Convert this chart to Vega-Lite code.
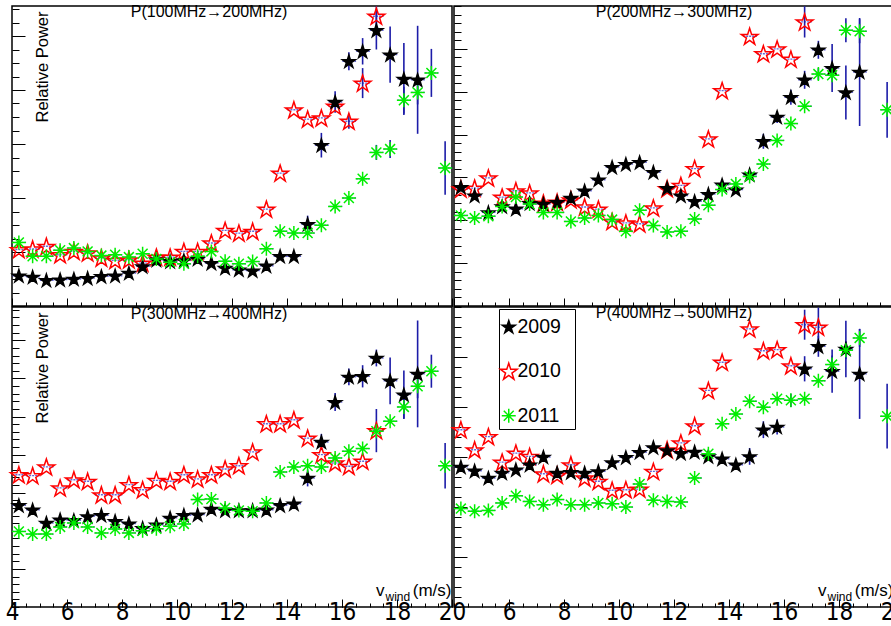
{
"$schema":"https://vega.github.io/schema/vega-lite/v6.json",
"padding":{"left":4,"top":2,"right":0,"bottom":0},
"background":"white",
"bounds":"flush",
"data":{"values":[
{"p":1,"yr":"2010","x":4.25,"v":18.8},{"p":1,"yr":"2010","x":4.75,"v":19.0},{"p":1,"yr":"2010","x":5.25,"v":19.9},{"p":1,"yr":"2010","x":5.75,"v":17.1},{"p":1,"yr":"2010","x":6.25,"v":18.2},{"p":1,"yr":"2010","x":6.75,"v":17.7},{"p":1,"yr":"2010","x":7.25,"v":16.0},{"p":1,"yr":"2010","x":7.75,"v":15.2},{"p":1,"yr":"2010","x":8.25,"v":15.4},{"p":1,"yr":"2010","x":8.75,"v":14.3},{"p":1,"yr":"2010","x":9.25,"v":16.3},{"p":1,"yr":"2010","x":9.75,"v":16.3},{"p":1,"yr":"2010","x":10.25,"v":18.2},{"p":1,"yr":"2010","x":10.75,"v":18.2},{"p":1,"yr":"2010","x":11.25,"v":21.0},{"p":1,"yr":"2010","x":11.75,"v":25.2},{"p":1,"yr":"2010","x":12.25,"v":24.3},{"p":1,"yr":"2010","x":12.75,"v":24.9},{"p":1,"yr":"2010","x":13.25,"v":32.3},{"p":1,"yr":"2010","x":13.75,"v":44.3},{"p":1,"yr":"2010","x":14.25,"v":65.4},{"p":1,"yr":"2010","x":14.75,"v":62.3},{"p":1,"yr":"2010","x":15.25,"v":62.7},{"p":1,"yr":"2010","x":15.75,"v":66.6},{"p":1,"yr":"2010","x":16.25,"v":61.6,"e":2.5},{"p":1,"yr":"2010","x":16.75,"v":74.3,"e":5},{"p":1,"yr":"2010","x":17.25,"v":96.6,"e":3.3},
{"p":1,"yr":"2009","x":4.25,"v":10.1},{"p":1,"yr":"2009","x":4.75,"v":9.7},{"p":1,"yr":"2009","x":5.25,"v":8.6},{"p":1,"yr":"2009","x":5.75,"v":8.8},{"p":1,"yr":"2009","x":6.25,"v":9.0},{"p":1,"yr":"2009","x":6.75,"v":9.3},{"p":1,"yr":"2009","x":7.25,"v":9.9},{"p":1,"yr":"2009","x":7.75,"v":10.1},{"p":1,"yr":"2009","x":8.25,"v":11.0},{"p":1,"yr":"2009","x":8.75,"v":13.2},{"p":1,"yr":"2009","x":9.25,"v":15.4},{"p":1,"yr":"2009","x":9.75,"v":14.9},{"p":1,"yr":"2009","x":10.25,"v":15.2},{"p":1,"yr":"2009","x":10.75,"v":15.7},{"p":1,"yr":"2009","x":11.25,"v":14.3},{"p":1,"yr":"2009","x":11.75,"v":12.7},{"p":1,"yr":"2009","x":12.25,"v":12.1},{"p":1,"yr":"2009","x":12.75,"v":11.8},{"p":1,"yr":"2009","x":13.25,"v":13.4},{"p":1,"yr":"2009","x":13.75,"v":16.6},{"p":1,"yr":"2009","x":14.25,"v":16.6},{"p":1,"yr":"2009","x":14.75,"v":27.3,"e":2.8},{"p":1,"yr":"2009","x":15.25,"v":53.6,"e":4.1},{"p":1,"yr":"2009","x":15.75,"v":68.0,"e":3.6},{"p":1,"yr":"2009","x":16.25,"v":81.6,"e":3},{"p":1,"yr":"2009","x":16.75,"v":84.9,"e":4.4},{"p":1,"yr":"2009","x":17.25,"v":91.9,"e":6.4},{"p":1,"yr":"2009","x":17.75,"v":83.8,"e":9.4},{"p":1,"yr":"2009","x":18.25,"v":75.7,"e":12},{"p":1,"yr":"2009","x":18.75,"v":75.4,"e":18},
{"p":1,"yr":"2011","x":4.25,"v":21.2},{"p":1,"yr":"2011","x":4.75,"v":16.6},{"p":1,"yr":"2011","x":5.25,"v":16.6},{"p":1,"yr":"2011","x":5.75,"v":18.6},{"p":1,"yr":"2011","x":6.25,"v":19.3},{"p":1,"yr":"2011","x":6.75,"v":18.2},{"p":1,"yr":"2011","x":7.25,"v":16.8},{"p":1,"yr":"2011","x":7.75,"v":17.1},{"p":1,"yr":"2011","x":8.25,"v":16.3},{"p":1,"yr":"2011","x":8.75,"v":17.4},{"p":1,"yr":"2011","x":9.25,"v":15.7},{"p":1,"yr":"2011","x":9.75,"v":14.6},{"p":1,"yr":"2011","x":10.25,"v":14.1},{"p":1,"yr":"2011","x":10.75,"v":16.6},{"p":1,"yr":"2011","x":11.25,"v":18.2},{"p":1,"yr":"2011","x":11.75,"v":14.9},{"p":1,"yr":"2011","x":12.25,"v":14.1},{"p":1,"yr":"2011","x":12.75,"v":14.8},{"p":1,"yr":"2011","x":13.25,"v":19.1},{"p":1,"yr":"2011","x":13.75,"v":24.9},{"p":1,"yr":"2011","x":14.25,"v":24.3},{"p":1,"yr":"2011","x":14.75,"v":24.3},{"p":1,"yr":"2011","x":15.25,"v":26.9},{"p":1,"yr":"2011","x":15.75,"v":33.2},{"p":1,"yr":"2011","x":16.25,"v":36.0},{"p":1,"yr":"2011","x":16.75,"v":42.4},{"p":1,"yr":"2011","x":17.25,"v":51.2,"e":2.5},{"p":1,"yr":"2011","x":17.75,"v":52.3,"e":3},{"p":1,"yr":"2011","x":18.25,"v":68.6,"e":4.5},{"p":1,"yr":"2011","x":18.75,"v":71.2,"e":4},{"p":1,"yr":"2011","x":19.25,"v":77.7,"e":8},{"p":1,"yr":"2011","x":19.75,"v":46.0,"e":8.9},
{"p":2,"yr":"2010","x":4.25,"v":39.0},{"p":2,"yr":"2010","x":4.75,"v":39.3},{"p":2,"yr":"2010","x":5.25,"v":42.7},{"p":2,"yr":"2010","x":5.75,"v":36.3},{"p":2,"yr":"2010","x":6.25,"v":38.4},{"p":2,"yr":"2010","x":6.75,"v":37.7},{"p":2,"yr":"2010","x":7.25,"v":34.3},{"p":2,"yr":"2010","x":7.75,"v":34.6},{"p":2,"yr":"2010","x":8.25,"v":35.4},{"p":2,"yr":"2010","x":8.75,"v":33.0},{"p":2,"yr":"2010","x":9.25,"v":32.3},{"p":2,"yr":"2010","x":9.75,"v":28.2},{"p":2,"yr":"2010","x":10.25,"v":27.7},{"p":2,"yr":"2010","x":10.75,"v":27.4},{"p":2,"yr":"2010","x":11.25,"v":32.7},{"p":2,"yr":"2010","x":11.75,"v":39.1},{"p":2,"yr":"2010","x":12.25,"v":40.2},{"p":2,"yr":"2010","x":12.75,"v":45.8},{"p":2,"yr":"2010","x":13.25,"v":55.7},{"p":2,"yr":"2010","x":13.75,"v":71.8},{"p":2,"yr":"2010","x":14.75,"v":89.9},{"p":2,"yr":"2010","x":15.25,"v":84.1},{"p":2,"yr":"2010","x":15.75,"v":85.7},{"p":2,"yr":"2010","x":16.25,"v":82.3},{"p":2,"yr":"2010","x":16.75,"v":94.7,"e":5.2},
{"p":2,"yr":"2009","x":4.25,"v":39.6},{"p":2,"yr":"2009","x":4.75,"v":36.8},{"p":2,"yr":"2009","x":5.25,"v":31.2},{"p":2,"yr":"2009","x":5.75,"v":33.2},{"p":2,"yr":"2009","x":6.25,"v":32.4},{"p":2,"yr":"2009","x":6.75,"v":34.3},{"p":2,"yr":"2009","x":7.25,"v":34.0},{"p":2,"yr":"2009","x":7.75,"v":34.6},{"p":2,"yr":"2009","x":8.25,"v":36.0},{"p":2,"yr":"2009","x":8.75,"v":38.4},{"p":2,"yr":"2009","x":9.25,"v":42.1},{"p":2,"yr":"2009","x":9.75,"v":46.3},{"p":2,"yr":"2009","x":10.25,"v":47.3},{"p":2,"yr":"2009","x":10.75,"v":47.9},{"p":2,"yr":"2009","x":11.25,"v":44.6},{"p":2,"yr":"2009","x":11.75,"v":39.3},{"p":2,"yr":"2009","x":12.25,"v":36.8},{"p":2,"yr":"2009","x":12.75,"v":34.9},{"p":2,"yr":"2009","x":13.25,"v":37.3},{"p":2,"yr":"2009","x":13.75,"v":40.4},{"p":2,"yr":"2009","x":14.25,"v":38.8},{"p":2,"yr":"2009","x":14.75,"v":43.8},{"p":2,"yr":"2009","x":15.25,"v":54.9,"e":2.5},{"p":2,"yr":"2009","x":15.75,"v":63.0,"e":2},{"p":2,"yr":"2009","x":16.25,"v":69.6,"e":2.5},{"p":2,"yr":"2009","x":16.75,"v":75.4,"e":3},{"p":2,"yr":"2009","x":17.25,"v":85.4,"e":3},{"p":2,"yr":"2009","x":17.75,"v":79.3,"e":8},{"p":2,"yr":"2009","x":18.25,"v":71.2,"e":9},{"p":2,"yr":"2009","x":18.75,"v":78.0,"e":18},
{"p":2,"yr":"2011","x":4.25,"v":30.2},{"p":2,"yr":"2011","x":4.75,"v":29.3},{"p":2,"yr":"2011","x":5.25,"v":29.9},{"p":2,"yr":"2011","x":5.75,"v":33.2},{"p":2,"yr":"2011","x":6.25,"v":36.3},{"p":2,"yr":"2011","x":6.75,"v":34.0},{"p":2,"yr":"2011","x":7.25,"v":31.2},{"p":2,"yr":"2011","x":7.75,"v":31.2},{"p":2,"yr":"2011","x":8.25,"v":28.2},{"p":2,"yr":"2011","x":8.75,"v":29.3},{"p":2,"yr":"2011","x":9.25,"v":30.2},{"p":2,"yr":"2011","x":9.75,"v":28.8},{"p":2,"yr":"2011","x":10.25,"v":24.9},{"p":2,"yr":"2011","x":10.75,"v":31.9},{"p":2,"yr":"2011","x":11.25,"v":26.8},{"p":2,"yr":"2011","x":11.75,"v":24.7},{"p":2,"yr":"2011","x":12.25,"v":24.9},{"p":2,"yr":"2011","x":12.75,"v":29.0},{"p":2,"yr":"2011","x":13.25,"v":33.6},{"p":2,"yr":"2011","x":13.75,"v":38.8},{"p":2,"yr":"2011","x":14.25,"v":40.7},{"p":2,"yr":"2011","x":14.75,"v":43.2},{"p":2,"yr":"2011","x":15.25,"v":47.3},{"p":2,"yr":"2011","x":15.75,"v":55.2},{"p":2,"yr":"2011","x":16.25,"v":60.8},{"p":2,"yr":"2011","x":16.75,"v":66.6},{"p":2,"yr":"2011","x":17.25,"v":77.3,"e":2},{"p":2,"yr":"2011","x":17.75,"v":76.9},{"p":2,"yr":"2011","x":18.25,"v":91.9,"e":4},{"p":2,"yr":"2011","x":18.75,"v":91.6,"e":4},{"p":2,"yr":"2011","x":19.75,"v":65.4,"e":9.3},
{"p":3,"yr":"2010","x":4.25,"v":44.1},{"p":3,"yr":"2010","x":4.75,"v":43.8},{"p":3,"yr":"2010","x":5.25,"v":46.7},{"p":3,"yr":"2010","x":5.75,"v":39.7},{"p":3,"yr":"2010","x":6.25,"v":42.4},{"p":3,"yr":"2010","x":6.75,"v":41.9},{"p":3,"yr":"2010","x":7.25,"v":37.4},{"p":3,"yr":"2010","x":7.75,"v":37.4},{"p":3,"yr":"2010","x":8.25,"v":40.8},{"p":3,"yr":"2010","x":8.75,"v":39.1},{"p":3,"yr":"2010","x":9.25,"v":42.2},{"p":3,"yr":"2010","x":9.75,"v":41.9},{"p":3,"yr":"2010","x":10.25,"v":44.1},{"p":3,"yr":"2010","x":10.75,"v":42.7},{"p":3,"yr":"2010","x":11.25,"v":44.1},{"p":3,"yr":"2010","x":11.75,"v":46.0},{"p":3,"yr":"2010","x":12.25,"v":47.1},{"p":3,"yr":"2010","x":12.75,"v":51.7},{"p":3,"yr":"2010","x":13.25,"v":61.1},{"p":3,"yr":"2010","x":13.75,"v":61.1},{"p":3,"yr":"2010","x":14.25,"v":62.4},{"p":3,"yr":"2010","x":14.75,"v":56.3},{"p":3,"yr":"2010","x":15.25,"v":50.8},{"p":3,"yr":"2010","x":15.75,"v":48.0},{"p":3,"yr":"2010","x":16.25,"v":46.9},{"p":3,"yr":"2010","x":16.75,"v":48.6},{"p":3,"yr":"2010","x":17.25,"v":58.8,"e":7.2},
{"p":3,"yr":"2009","x":4.25,"v":33.9},{"p":3,"yr":"2009","x":4.75,"v":32.4},{"p":3,"yr":"2009","x":5.25,"v":28.0},{"p":3,"yr":"2009","x":5.75,"v":29.1},{"p":3,"yr":"2009","x":6.25,"v":28.9},{"p":3,"yr":"2009","x":6.75,"v":30.2},{"p":3,"yr":"2009","x":7.25,"v":30.6},{"p":3,"yr":"2009","x":7.75,"v":28.6},{"p":3,"yr":"2009","x":8.25,"v":27.8},{"p":3,"yr":"2009","x":8.75,"v":26.3},{"p":3,"yr":"2009","x":9.25,"v":27.4},{"p":3,"yr":"2009","x":9.75,"v":29.7},{"p":3,"yr":"2009","x":10.25,"v":30.6},{"p":3,"yr":"2009","x":10.75,"v":30.8},{"p":3,"yr":"2009","x":11.25,"v":32.7},{"p":3,"yr":"2009","x":11.75,"v":32.2},{"p":3,"yr":"2009","x":12.25,"v":32.2},{"p":3,"yr":"2009","x":12.75,"v":32.2},{"p":3,"yr":"2009","x":13.25,"v":32.4},{"p":3,"yr":"2009","x":13.75,"v":33.9},{"p":3,"yr":"2009","x":14.25,"v":34.4},{"p":3,"yr":"2009","x":14.75,"v":43.0,"e":2.8},{"p":3,"yr":"2009","x":15.25,"v":55.0,"e":2.7},{"p":3,"yr":"2009","x":15.75,"v":68.3,"e":3},{"p":3,"yr":"2009","x":16.25,"v":76.7,"e":2.8},{"p":3,"yr":"2009","x":16.75,"v":76.9,"e":3.7},{"p":3,"yr":"2009","x":17.25,"v":83.0,"e":2.8},{"p":3,"yr":"2009","x":17.75,"v":75.4,"e":7.8},{"p":3,"yr":"2009","x":18.25,"v":70.8,"e":8},{"p":3,"yr":"2009","x":18.75,"v":77.7,"e":17.8},
{"p":3,"yr":"2011","x":4.25,"v":25.2},{"p":3,"yr":"2011","x":4.75,"v":24.3},{"p":3,"yr":"2011","x":5.25,"v":24.3},{"p":3,"yr":"2011","x":5.75,"v":26.7},{"p":3,"yr":"2011","x":6.25,"v":28.0},{"p":3,"yr":"2011","x":6.75,"v":26.7},{"p":3,"yr":"2011","x":7.25,"v":24.7},{"p":3,"yr":"2011","x":7.75,"v":26.0},{"p":3,"yr":"2011","x":8.25,"v":24.7},{"p":3,"yr":"2011","x":8.75,"v":25.4},{"p":3,"yr":"2011","x":9.25,"v":26.1},{"p":3,"yr":"2011","x":9.75,"v":26.9},{"p":3,"yr":"2011","x":10.25,"v":27.7},{"p":3,"yr":"2011","x":10.75,"v":35.8},{"p":3,"yr":"2011","x":11.25,"v":36.0},{"p":3,"yr":"2011","x":11.75,"v":33.0},{"p":3,"yr":"2011","x":12.25,"v":32.2},{"p":3,"yr":"2011","x":12.75,"v":31.9},{"p":3,"yr":"2011","x":13.25,"v":34.7},{"p":3,"yr":"2011","x":13.75,"v":45.0},{"p":3,"yr":"2011","x":14.25,"v":46.7},{"p":3,"yr":"2011","x":14.75,"v":47.1},{"p":3,"yr":"2011","x":15.25,"v":46.7},{"p":3,"yr":"2011","x":15.75,"v":49.7},{"p":3,"yr":"2011","x":16.25,"v":51.9},{"p":3,"yr":"2011","x":16.75,"v":52.8},{"p":3,"yr":"2011","x":17.25,"v":58.6},{"p":3,"yr":"2011","x":17.75,"v":61.9},{"p":3,"yr":"2011","x":18.25,"v":66.7,"e":4},{"p":3,"yr":"2011","x":18.75,"v":73.6,"e":4},{"p":3,"yr":"2011","x":19.25,"v":78.6,"e":5.5},{"p":3,"yr":"2011","x":19.75,"v":47.1,"e":7.6},
{"p":4,"yr":"2010","x":4.25,"v":59.1},{"p":4,"yr":"2010","x":4.75,"v":52.4},{"p":4,"yr":"2010","x":5.25,"v":56.8},{"p":4,"yr":"2010","x":5.75,"v":48.3},{"p":4,"yr":"2010","x":6.25,"v":51.3},{"p":4,"yr":"2010","x":6.75,"v":50.2},{"p":4,"yr":"2010","x":7.25,"v":44.4},{"p":4,"yr":"2010","x":7.75,"v":43.9},{"p":4,"yr":"2010","x":8.25,"v":47.4},{"p":4,"yr":"2010","x":8.75,"v":43.0},{"p":4,"yr":"2010","x":9.25,"v":41.9},{"p":4,"yr":"2010","x":9.75,"v":38.9},{"p":4,"yr":"2010","x":10.25,"v":39.1},{"p":4,"yr":"2010","x":10.75,"v":39.3},{"p":4,"yr":"2010","x":11.25,"v":45.2},{"p":4,"yr":"2010","x":11.75,"v":52.4},{"p":4,"yr":"2010","x":12.25,"v":54.7},{"p":4,"yr":"2010","x":12.75,"v":60.4},{"p":4,"yr":"2010","x":13.25,"v":72.2},{"p":4,"yr":"2010","x":13.75,"v":81.6},{"p":4,"yr":"2010","x":14.75,"v":92.7},{"p":4,"yr":"2010","x":15.25,"v":85.4},{"p":4,"yr":"2010","x":15.75,"v":85.8},{"p":4,"yr":"2010","x":16.25,"v":80.4},{"p":4,"yr":"2010","x":16.75,"v":94.1,"e":5},{"p":4,"yr":"2010","x":17.25,"v":93.3,"e":6.5},
{"p":4,"yr":"2009","x":4.25,"v":46.7},{"p":4,"yr":"2009","x":4.75,"v":45.4},{"p":4,"yr":"2009","x":5.25,"v":43.0},{"p":4,"yr":"2009","x":5.75,"v":44.7},{"p":4,"yr":"2009","x":6.25,"v":45.8},{"p":4,"yr":"2009","x":6.75,"v":47.4},{"p":4,"yr":"2009","x":7.25,"v":50.0},{"p":4,"yr":"2009","x":7.75,"v":44.7},{"p":4,"yr":"2009","x":8.25,"v":44.9},{"p":4,"yr":"2009","x":8.75,"v":44.7},{"p":4,"yr":"2009","x":9.25,"v":45.2},{"p":4,"yr":"2009","x":9.75,"v":48.2},{"p":4,"yr":"2009","x":10.25,"v":49.9},{"p":4,"yr":"2009","x":10.75,"v":51.6},{"p":4,"yr":"2009","x":11.25,"v":53.2},{"p":4,"yr":"2009","x":11.75,"v":52.2},{"p":4,"yr":"2009","x":12.25,"v":51.3},{"p":4,"yr":"2009","x":12.75,"v":51.7},{"p":4,"yr":"2009","x":13.25,"v":50.2},{"p":4,"yr":"2009","x":13.75,"v":49.4},{"p":4,"yr":"2009","x":14.25,"v":47.4},{"p":4,"yr":"2009","x":14.75,"v":50.2,"e":2.8},{"p":4,"yr":"2009","x":15.25,"v":59.1,"e":2.8},{"p":4,"yr":"2009","x":15.75,"v":60.0,"e":2.5},{"p":4,"yr":"2009","x":16.75,"v":79.4,"e":4.2},{"p":4,"yr":"2009","x":17.25,"v":86.9,"e":3.5},{"p":4,"yr":"2009","x":17.75,"v":78.6,"e":7.2},{"p":4,"yr":"2009","x":18.25,"v":86.0,"e":9.4},{"p":4,"yr":"2009","x":18.75,"v":77.7,"e":15},
{"p":4,"yr":"2011","x":4.25,"v":32.8},{"p":4,"yr":"2011","x":4.75,"v":31.9},{"p":4,"yr":"2011","x":5.25,"v":32.2},{"p":4,"yr":"2011","x":5.75,"v":34.7},{"p":4,"yr":"2011","x":6.25,"v":37.1},{"p":4,"yr":"2011","x":6.75,"v":35.2},{"p":4,"yr":"2011","x":7.25,"v":34.1},{"p":4,"yr":"2011","x":7.75,"v":35.8},{"p":4,"yr":"2011","x":8.25,"v":34.1},{"p":4,"yr":"2011","x":8.75,"v":34.1},{"p":4,"yr":"2011","x":9.25,"v":34.7},{"p":4,"yr":"2011","x":9.75,"v":34.4},{"p":4,"yr":"2011","x":10.25,"v":33.3},{"p":4,"yr":"2011","x":10.75,"v":41.0},{"p":4,"yr":"2011","x":11.25,"v":35.6},{"p":4,"yr":"2011","x":11.75,"v":35.2},{"p":4,"yr":"2011","x":12.25,"v":35.0},{"p":4,"yr":"2011","x":12.75,"v":43.0},{"p":4,"yr":"2011","x":13.25,"v":51.1},{"p":4,"yr":"2011","x":13.75,"v":61.1},{"p":4,"yr":"2011","x":14.25,"v":64.3},{"p":4,"yr":"2011","x":14.75,"v":68.6},{"p":4,"yr":"2011","x":15.25,"v":66.6},{"p":4,"yr":"2011","x":15.75,"v":69.4},{"p":4,"yr":"2011","x":16.25,"v":68.9,"e":2.2},{"p":4,"yr":"2011","x":16.75,"v":69.4},{"p":4,"yr":"2011","x":17.25,"v":75.4},{"p":4,"yr":"2011","x":17.75,"v":80.8,"e":3},{"p":4,"yr":"2011","x":18.25,"v":85.6,"e":3},{"p":4,"yr":"2011","x":18.75,"v":89.7,"e":3},{"p":4,"yr":"2011","x":19.75,"v":63.6,"e":10.8}
]},
"columns":2,
"spacing":{"row":1,"column":2},
"resolve":{"scale":{"shape":"independent","fill":"independent","stroke":"independent"}},
"concat":[
{
"width":440,"height":300,
"title":{"text":"P(100MHz→200MHz)","dx":-23},
"transform":[{"filter":"datum.p == 1"}],
"resolve":{"axis":{"x":"independent","y":"independent"}},
"layer":[
{"mark":{"type":"tick","orient":"horizontal","size":13,"thickness":0.01,"filled":false,"stroke":"#2424c0","strokeWidth":1.4,"strokeDash":[1.5,1.5]},
"encoding":{"x":{"field":"x","type":"quantitative","scale":{"domain":[4,20]},"axis":null},"y":{"field":"v","type":"quantitative","scale":{"domain":[0,100]},"axis":null}}},
{"transform":[{"filter":"datum.e > 0"}],"mark":{"type":"errorbar","color":"#1c1ca8","thickness":1.6},
"encoding":{"x":{"field":"x","type":"quantitative","scale":{"domain":[4,20]},"axis":null},"y":{"field":"v","type":"quantitative","scale":{"domain":[0,100]},"axis":null},"yError":{"field":"e"}}},
{"mark":{"type":"point","opacity":0},
"encoding":{"x":{"field":"x","type":"quantitative","scale":{"domain":[4,20]},"axis":{"orient":"bottom","values":[4,4.5,5,5.5,6,6.5,7,7.5,8,8.5,9,9.5,10,10.5,11,11.5,12,12.5,13,13.5,14,14.5,15,15.5,16,16.5,17,17.5,18,18.5,19,19.5,20],"tickSize":-4,"title":null}},
"y":{"field":"v","type":"quantitative","scale":{"domain":[0,100]},"axis":{"orient":"left","values":[0,4.5,9,13.5,18,22.5,27,31.5,36,40.5,45,49.5,54,58.5,63,67.5,72,76.5,81,85.5,90,94.5,99],"tickSize":-7,"title":null}}}},
{"mark":{"type":"point","strokeWidth":1.5,"size":256,"opacity":1},
"encoding":{"x":{"field":"x","type":"quantitative","scale":{"domain":[4,20]},"axis":{"orient":"bottom","values":[4,6,8,10,12,14,16,18,20],"tickSize":-8,"title":null}},
"y":{"field":"v","type":"quantitative","scale":{"domain":[0,100]},"axis":{"orient":"left","values":[0,18,36,54,72,90],"tickSize":-13,"title":"Relative Power","titleAngle":-90,"titleX":35,"titleY":5,"titleAlign":"right","titleBaseline":"alphabetic","titleFontSize":16.5}},
"shape":{"field":"yr","type":"nominal","scale":{"domain":["2009","2010","2011"],"range":["M0,-0.77L0.191,-0.183L0.808,-0.183L0.309,0.18L0.5,0.768L0,0.405L-0.5,0.768L-0.309,0.18L-0.808,-0.183L-0.191,-0.183Z","M0,-1L0.247,-0.24L1.046,-0.24L0.399,0.23L0.647,0.99L0,0.52L-0.647,0.99L-0.399,0.23L-1.046,-0.24L-0.247,-0.24Z","M-0.875,0L0.875,0M0,-0.875L0,0.875M-0.62,-0.62L0.62,0.62M-0.62,0.62L0.62,-0.62"]},"legend":null},
"fill":{"field":"yr","type":"nominal","scale":{"domain":["2009","2010","2011"],"range":["#000000","transparent","transparent"]},"legend":null},
"stroke":{"field":"yr","type":"nominal","scale":{"domain":["2009","2010","2011"],"range":["#000000","#ff0000","#00ee00"]},"legend":null}}}
]
},
{
"width":440,"height":300,
"title":{"text":"P(200MHz→300MHz)","dx":0},
"transform":[{"filter":"datum.p == 2"}],
"resolve":{"axis":{"x":"independent","y":"independent"}},
"layer":[
{"mark":{"type":"tick","orient":"horizontal","size":13,"thickness":0.01,"filled":false,"stroke":"#2424c0","strokeWidth":1.4,"strokeDash":[1.5,1.5]},
"encoding":{"x":{"field":"x","type":"quantitative","scale":{"domain":[4,20]},"axis":null},"y":{"field":"v","type":"quantitative","scale":{"domain":[0,100]},"axis":null}}},
{"transform":[{"filter":"datum.e > 0"}],"mark":{"type":"errorbar","color":"#1c1ca8","thickness":1.6},
"encoding":{"x":{"field":"x","type":"quantitative","scale":{"domain":[4,20]},"axis":null},"y":{"field":"v","type":"quantitative","scale":{"domain":[0,100]},"axis":null},"yError":{"field":"e"}}},
{"mark":{"type":"point","opacity":0},
"encoding":{"x":{"field":"x","type":"quantitative","scale":{"domain":[4,20]},"axis":{"orient":"bottom","values":[4,4.5,5,5.5,6,6.5,7,7.5,8,8.5,9,9.5,10,10.5,11,11.5,12,12.5,13,13.5,14,14.5,15,15.5,16,16.5,17,17.5,18,18.5,19,19.5,20],"tickSize":-4,"title":null}},
"y":{"field":"v","type":"quantitative","scale":{"domain":[0,100]},"axis":{"orient":"left","values":[0,2.857,5.714,8.571,11.429,14.286,17.143,20,22.857,25.714,28.571,31.429,34.286,37.143,40,42.857,45.714,48.571,51.429,54.286,57.143,60,62.857,65.714,68.571,71.429,74.286,77.143,80,82.857,85.714,88.571,91.429,94.286,97.143,100],"tickSize":-7,"title":null}}}},
{"mark":{"type":"point","strokeWidth":1.5,"size":256,"opacity":1},
"encoding":{"x":{"field":"x","type":"quantitative","scale":{"domain":[4,20]},"axis":{"orient":"bottom","values":[4,6,8,10,12,14,16,18,20],"tickSize":-8,"title":null}},
"y":{"field":"v","type":"quantitative","scale":{"domain":[0,100]},"axis":{"orient":"left","values":[14.286,28.571,42.857,57.143,71.429,85.714],"tickSize":-13,"title":null}},
"shape":{"field":"yr","type":"nominal","scale":{"domain":["2009","2010","2011"],"range":["M0,-0.77L0.191,-0.183L0.808,-0.183L0.309,0.18L0.5,0.768L0,0.405L-0.5,0.768L-0.309,0.18L-0.808,-0.183L-0.191,-0.183Z","M0,-1L0.247,-0.24L1.046,-0.24L0.399,0.23L0.647,0.99L0,0.52L-0.647,0.99L-0.399,0.23L-1.046,-0.24L-0.247,-0.24Z","M-0.875,0L0.875,0M0,-0.875L0,0.875M-0.62,-0.62L0.62,0.62M-0.62,0.62L0.62,-0.62"]},"legend":null},
"fill":{"field":"yr","type":"nominal","scale":{"domain":["2009","2010","2011"],"range":["#000000","transparent","transparent"]},"legend":null},
"stroke":{"field":"yr","type":"nominal","scale":{"domain":["2009","2010","2011"],"range":["#000000","#ff0000","#00ee00"]},"legend":null}}}
]
},
{
"width":440,"height":300,
"title":{"text":"P(300MHz→400MHz)","dx":-23},
"transform":[{"filter":"datum.p == 3"}],
"resolve":{"axis":{"x":"independent","y":"independent"}},
"layer":[
{"mark":{"type":"tick","orient":"horizontal","size":13,"thickness":0.01,"filled":false,"stroke":"#2424c0","strokeWidth":1.4,"strokeDash":[1.5,1.5]},
"encoding":{"x":{"field":"x","type":"quantitative","scale":{"domain":[4,20]},"axis":null},"y":{"field":"v","type":"quantitative","scale":{"domain":[0,100]},"axis":null}}},
{"transform":[{"filter":"datum.e > 0"}],"mark":{"type":"errorbar","color":"#1c1ca8","thickness":1.6},
"encoding":{"x":{"field":"x","type":"quantitative","scale":{"domain":[4,20]},"axis":null},"y":{"field":"v","type":"quantitative","scale":{"domain":[0,100]},"axis":null},"yError":{"field":"e"}}},
{"mark":{"type":"point","opacity":0},
"encoding":{"x":{"field":"x","type":"quantitative","scale":{"domain":[4,20]},"axis":{"orient":"bottom","values":[4,4.5,5,5.5,6,6.5,7,7.5,8,8.5,9,9.5,10,10.5,11,11.5,12,12.5,13,13.5,14,14.5,15,15.5,16,16.5,17,17.5,18,18.5,19,19.5,20],"tickSize":-4,"title":"wind","titleX":373,"titleY":-7,"titleAlign":"left","titleBaseline":"alphabetic","titleFontSize":12}},
"y":{"field":"v","type":"quantitative","scale":{"domain":[0,100]},"axis":{"orient":"left","values":[0,2.54,5.08,7.62,10.16,12.7,15.24,17.78,20.32,22.86,25.4,27.94,30.48,33.02,35.56,38.1,40.64,43.18,45.72,48.26,50.8,53.34,55.88,58.42,60.96,63.5,66.04,68.58,71.12,73.66,76.2,78.74,81.28,83.82,86.36,88.9,91.44,93.98,96.52,99.06],"tickSize":-7,"title":null}}}},
{"mark":{"type":"point","strokeWidth":1.5,"size":256,"opacity":1},
"encoding":{"x":{"field":"x","type":"quantitative","scale":{"domain":[4,20]},"axis":{"orient":"bottom","values":[4,6,8,10,12,14,16,18,20],"tickSize":-8,"labels":true,"title":"v\u00a0\u00a0\u00a0\u00a0\u00a0\u00a0(m/s)","titleX":439,"titleY":-12,"titleAlign":"right","titleBaseline":"alphabetic","titleFontSize":17}},
"y":{"field":"v","type":"quantitative","scale":{"domain":[0,100]},"axis":{"orient":"left","values":[12.7,25.4,38.1,50.8,63.5,76.2,88.9],"tickSize":-13,"title":"Relative Power","titleAngle":-90,"titleX":35,"titleY":5,"titleAlign":"right","titleBaseline":"alphabetic","titleFontSize":16.5}},
"shape":{"field":"yr","type":"nominal","scale":{"domain":["2009","2010","2011"],"range":["M0,-0.77L0.191,-0.183L0.808,-0.183L0.309,0.18L0.5,0.768L0,0.405L-0.5,0.768L-0.309,0.18L-0.808,-0.183L-0.191,-0.183Z","M0,-1L0.247,-0.24L1.046,-0.24L0.399,0.23L0.647,0.99L0,0.52L-0.647,0.99L-0.399,0.23L-1.046,-0.24L-0.247,-0.24Z","M-0.875,0L0.875,0M0,-0.875L0,0.875M-0.62,-0.62L0.62,0.62M-0.62,0.62L0.62,-0.62"]},"legend":null},
"fill":{"field":"yr","type":"nominal","scale":{"domain":["2009","2010","2011"],"range":["#000000","transparent","transparent"]},"legend":null},
"stroke":{"field":"yr","type":"nominal","scale":{"domain":["2009","2010","2011"],"range":["#000000","#ff0000","#00ee00"]},"legend":null}}}
]
},
{
"width":440,"height":300,
"title":{"text":"P(400MHz→500MHz)","dx":0},
"transform":[{"filter":"datum.p == 4"}],
"resolve":{"axis":{"x":"independent","y":"independent"}},
"layer":[
{"mark":{"type":"tick","orient":"horizontal","size":13,"thickness":0.01,"filled":false,"stroke":"#2424c0","strokeWidth":1.4,"strokeDash":[1.5,1.5]},
"encoding":{"x":{"field":"x","type":"quantitative","scale":{"domain":[4,20]},"axis":null},"y":{"field":"v","type":"quantitative","scale":{"domain":[0,100]},"axis":null}}},
{"transform":[{"filter":"datum.e > 0"}],"mark":{"type":"errorbar","color":"#1c1ca8","thickness":1.6},
"encoding":{"x":{"field":"x","type":"quantitative","scale":{"domain":[4,20]},"axis":null},"y":{"field":"v","type":"quantitative","scale":{"domain":[0,100]},"axis":null},"yError":{"field":"e"}}},
{"mark":{"type":"point","opacity":0},
"encoding":{"x":{"field":"x","type":"quantitative","scale":{"domain":[4,20]},"axis":{"orient":"bottom","values":[4,4.5,5,5.5,6,6.5,7,7.5,8,8.5,9,9.5,10,10.5,11,11.5,12,12.5,13,13.5,14,14.5,15,15.5,16,16.5,17,17.5,18,18.5,19,19.5,20],"tickSize":-4,"title":"wind","titleX":373,"titleY":-7,"titleAlign":"left","titleBaseline":"alphabetic","titleFontSize":12}},
"y":{"field":"v","type":"quantitative","scale":{"domain":[0,100]},"axis":{"orient":"left","values":[0,3.333,6.667,10,13.333,16.667,20,23.333,26.667,30,33.333,36.667,40,43.333,46.667,50,53.333,56.667,60,63.333,66.667,70,73.333,76.667,80,83.333,86.667,90,93.333,96.667,100],"tickSize":-7,"title":null}}}},
{"mark":{"type":"point","strokeWidth":1.5,"size":256,"opacity":1},
"encoding":{"x":{"field":"x","type":"quantitative","scale":{"domain":[4,20]},"axis":{"orient":"bottom","values":[6,8,10,12,14,16,18,20],"tickSize":-8,"labels":true,"title":"v\u00a0\u00a0\u00a0\u00a0\u00a0\u00a0(m/s)","titleX":439,"titleY":-12,"titleAlign":"right","titleBaseline":"alphabetic","titleFontSize":17}},
"y":{"field":"v","type":"quantitative","scale":{"domain":[0,100]},"axis":{"orient":"left","values":[16.667,33.333,50,66.667,83.333],"tickSize":-13,"title":null}},
"shape":{"field":"yr","type":"nominal","scale":{"domain":["2009","2010","2011"],"range":["M0,-0.77L0.191,-0.183L0.808,-0.183L0.309,0.18L0.5,0.768L0,0.405L-0.5,0.768L-0.309,0.18L-0.808,-0.183L-0.191,-0.183Z","M0,-1L0.247,-0.24L1.046,-0.24L0.399,0.23L0.647,0.99L0,0.52L-0.647,0.99L-0.399,0.23L-1.046,-0.24L-0.247,-0.24Z","M-0.875,0L0.875,0M0,-0.875L0,0.875M-0.62,-0.62L0.62,0.62M-0.62,0.62L0.62,-0.62"]},"legend":{"orient":"none","legendX":45,"legendY":2,"title":"\u00a0","titleFontSize":3,"titlePadding":2,"direction":"vertical","strokeColor":"black","fillColor":"white","padding":3,"rowPadding":22.5,"labelFontSize":19.5,"labelFont":"Liberation Sans","labelColor":"black","labelOffset":-1,"symbolOffset":-3,"labelExpr":"datum.label + '\u00a0\u00a0\u200b'","symbolSize":256,"symbolStrokeWidth":1.5}},
"fill":{"field":"yr","type":"nominal","scale":{"domain":["2009","2010","2011"],"range":["#000000","transparent","transparent"]},"legend":{"orient":"none","legendX":45,"legendY":2,"title":"\u00a0","titleFontSize":3,"titlePadding":2,"direction":"vertical","strokeColor":"black","fillColor":"white","padding":3,"rowPadding":22.5,"labelFontSize":19.5,"labelFont":"Liberation Sans","labelColor":"black","labelOffset":-1,"symbolOffset":-3,"labelExpr":"datum.label + '\u00a0\u00a0\u200b'","symbolSize":256,"symbolStrokeWidth":1.5}},
"stroke":{"field":"yr","type":"nominal","scale":{"domain":["2009","2010","2011"],"range":["#000000","#ff0000","#00ee00"]},"legend":{"orient":"none","legendX":45,"legendY":2,"title":"\u00a0","titleFontSize":3,"titlePadding":2,"direction":"vertical","strokeColor":"black","fillColor":"white","padding":3,"rowPadding":22.5,"labelFontSize":19.5,"labelFont":"Liberation Sans","labelColor":"black","labelOffset":-1,"symbolOffset":-3,"labelExpr":"datum.label + '\u00a0\u00a0\u200b'","symbolSize":256,"symbolStrokeWidth":1.5}}}}
]
}
],
"config":{
"view":{"stroke":"black","strokeWidth":1.5},
"font":"Liberation Sans",
"axis":{"domain":false,"grid":false,"labels":false,"ticks":true,"tickColor":"black","tickWidth":1,"labelFlush":false,"labelOverlap":false,"labelBound":false,"labelColor":"black","labelFont":"Liberation Sans Narrow, DejaVu Sans Condensed, Liberation Sans","labelFontSize":24,"labelPadding":1,"titleColor":"black","titleFont":"Liberation Sans","titleFontWeight":"normal","titlePadding":0},
"title":{"font":"Liberation Sans","fontSize":16,"fontWeight":"normal","color":"black","frame":"group","anchor":"middle","offset":-14.5,"baseline":"alphabetic"}
}
}
